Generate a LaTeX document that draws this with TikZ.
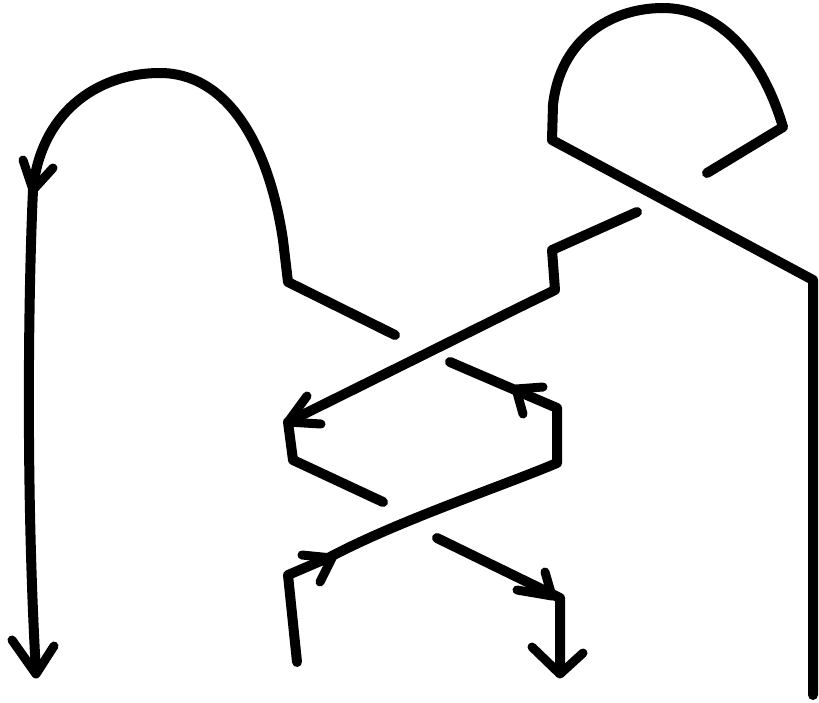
\documentclass[tikz,border=0pt]{standalone}
\begin{document}
\begin{tikzpicture}[x=1pt,y=-1pt,
  strand/.style={line width=10pt,line cap=round,line join=round,black},
  barb/.style={line width=9pt,line cap=round,line join=round,black}]
\useasboundingbox (0,0) rectangle (819,702);
% left strand with big arc
\draw[strand] (395,335) -- (288,282) -- (283,240)
  .. controls (268,140) and (225,73) .. (160,73)
  .. controls (95,73) and (40,115) .. (33,190)
  .. controls (28,300) and (26,500) .. (36,672);
\draw[barb] (23,160) -- (33,190) -- (53,168);
\draw[barb] (12,640) -- (36,674) -- (54,646);
% continuation of left strand (under crossing)
\draw[strand] (450,362) -- (557,408) -- (557,463)
  .. controls (500,487) and (400,520) .. (330,557)
  -- (288,575) -- (297,662);
\draw[barb] (543,387) -- (516,389) -- (523,414);
\draw[barb] (302,555) -- (332,558) -- (320,582);
% right strand: vertical + diagonal + top loop
\draw[strand] (813,695) -- (813,280) -- (552,140) -- (553,105)
  .. controls (560,40) and (610,8) .. (663,8)
  .. controls (715,8) and (760,50) .. (783,127)
  -- (707,173);
% continuation under crossing
\draw[strand] (637,212) -- (552,250) -- (555,290) -- (520,307) -- (288,422) -- (293,460) -- (383,502);
\draw[barb] (307,396) -- (288,422) -- (321,424);
\draw[strand] (437,538) -- (560,598) -- (560,673);
\draw[barb] (517,590) -- (552,596) -- (545,572);
\draw[barb] (532,647) -- (560,674) -- (583,653);
\end{tikzpicture}
\end{document}
